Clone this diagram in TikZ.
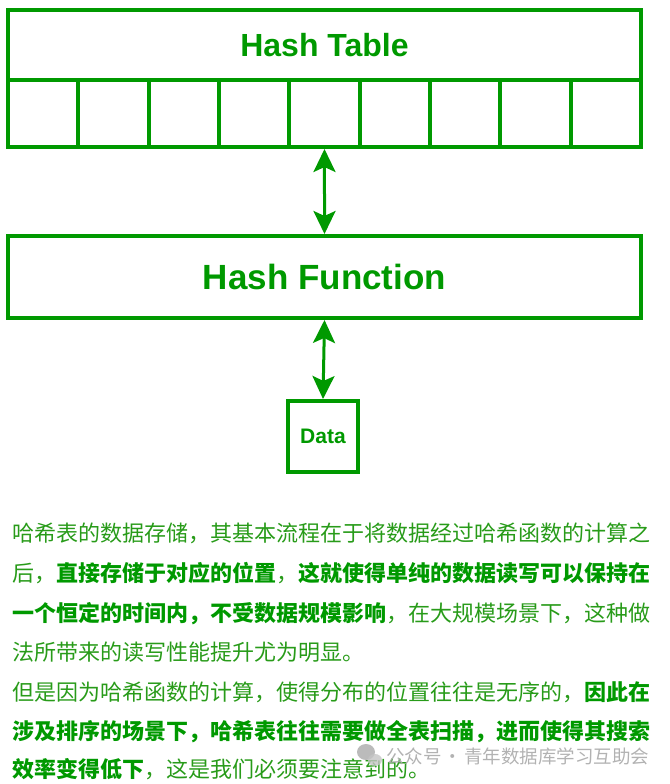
\documentclass[tikz,border=0pt]{standalone}
\usepackage{fontspec}
\setmainfont{Liberation Sans}
\newfontfamily\cjk{Noto Sans CJK SC}
\usetikzlibrary{arrows.meta,positioning}
\definecolor{hgreen}{RGB}{0,153,0}
\definecolor{tgreen}{RGB}{40,155,25}
\definecolor{wmgray}{RGB}{170,170,170}
\begin{document}
\begin{tikzpicture}[x=1pt,y=-1pt,
   box/.style={draw=hgreen,line width=4pt,inner sep=0pt,font=\bfseries,text=hgreen},
   cell/.style={draw=hgreen,line width=4pt,inner sep=0pt,minimum width=70.33pt,minimum height=67pt},
   arr/.style={{Stealth[length=23pt,width=22pt,inset=5pt]}-{Stealth[length=23pt,width=22pt,inset=5pt]},hgreen,line width=3pt},
   ln/.style={anchor=base west,inner sep=0pt,font=\cjk\fontsize{22pt}{22pt}\selectfont,text=tgreen},
   b/.style={font=\bfseries,text=hgreen}]
  \useasboundingbox (0,0) rectangle (669,784);
  \node[box,minimum width=633pt,minimum height=70pt,font=\bfseries\fontsize{32pt}{32pt}\selectfont] (ht) at (324.5,45) {Hash Table};
  \foreach \i in {0,...,8}
    \node[cell] (c\i) at ({8+70.33*\i+35.17},113.5) {};
  \node[box,minimum width=633pt,minimum height=82pt,font=\bfseries\fontsize{35pt}{35pt}\selectfont] (hf) at (324.5,277) {Hash Function};
  \node[box,minimum width=70pt,minimum height=71pt,font=\bfseries\fontsize{21pt}{21pt}\selectfont] (data) at (323,436.5) {Data};
  \draw[arr] (c4.south) -- (hf.north);
  \draw[arr] (hf.south) -- (data.north);
  % text below the diagram
  \node[ln] (l1) at (12,541) {哈希表的数据存储，其基本流程在于将数据经过哈希函数的计算之};
  \node[ln] (l2) at (12,581) {后，{\bfseries\color{hgreen}直接存储于对应的位置}，{\bfseries\color{hgreen}这就使得单纯的数据读写可以保持在}};
  \node[ln] (l3) at (12,621) {{\bfseries\color{hgreen}一个恒定的时间内，不受数据规模影响}，在大规模场景下，这种做};
  \node[ln] (l4) at (12,660) {法所带来的读写性能提升尤为明显。};
  \node[ln] (l5) at (12,700) {但是因为哈希函数的计算，使得分布的位置往往是无序的，{\bfseries\color{hgreen}因此在}};
  \node[ln] (l6) at (12,739) {{\bfseries\color{hgreen}涉及排序的场景下，哈希表往往需要做全表扫描，进而使得其搜索}};
  \node[ln] (l7) at (12,777) {{\bfseries\color{hgreen}效率变得低下}，这是我们必须要注意到的。};
  % watermark
  \fill[wmgray,opacity=0.8] (366,752) ellipse (9pt and 8pt);
  \fill[wmgray!70,opacity=0.8] (375,760) ellipse (7pt and 6pt);
  \node[anchor=base west,inner sep=0pt,font=\cjk\fontsize{18.5pt}{18.5pt}\selectfont,text=wmgray,opacity=0.9] (wm) at (386,763) {公众号\hspace{2pt}·\hspace{2pt}青年数据库学习互助会};
\end{tikzpicture}
\end{document}
